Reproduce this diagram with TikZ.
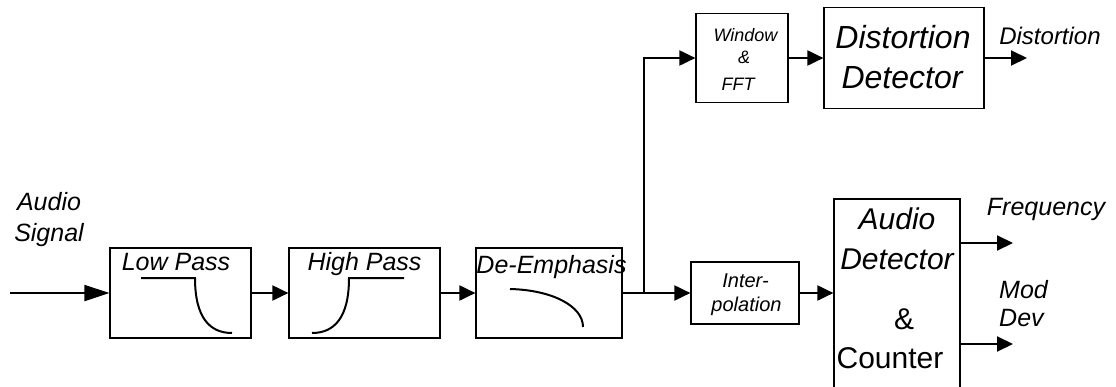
\documentclass[tikz,border=0pt]{standalone}
\usepackage{fontspec}
\setmainfont{Liberation Sans}
\usetikzlibrary{arrows.meta}

\tikzset{
  blk/.style={draw, line width=1.2pt, inner sep=0pt},
  sig/.style={line width=2pt, -{Triangle[length=16pt, width=15pt]}},
  resp/.style={line width=2pt},
  lbl/.style={inner sep=0pt, anchor=base, font=\fontsize{#1}{#1}\selectfont\itshape},
  txt/.style={inner sep=0pt, anchor=base, font=\fontsize{#1}{#1}\selectfont},
}

\begin{document}
\begin{tikzpicture}[x=1pt,y=-1pt]
\clip (0,0) rectangle (1116,386);
% blocks
\node[blk, minimum width=141pt, minimum height=90pt] (lp) at (180.5,293) {};
\node[blk, minimum width=151pt, minimum height=90pt] (hp) at (364.5,293) {};
\node[blk, minimum width=146pt, minimum height=90pt] (de) at (549,293) {};
\node[blk, minimum width=108pt, minimum height=62pt] (ip) at (745,293) {};
\node[blk, minimum width=92pt, minimum height=89pt] (win) at (742,58) {};
\node[blk, minimum width=160pt, minimum height=101pt] (dd) at (904,58) {};
\node[blk, minimum width=126pt, minimum height=201pt] (ad) at (897,299.5) {};

% labels
\node[lbl=25] (sig1) at (49,210) {Audio};
\node[lbl=25] (sig2) at (49,241) {Signal};
\node[lbl=25] (lpt) at (176,270) {Low Pass};
\node[lbl=25] (hpt) at (364.5,270) {High Pass};
\node[lbl=25] (det) at (551.5,273) {De-Emphasis};
\node[lbl=20] (ipt1) at (745.5,287) {Inter-};
\node[lbl=20] (ipt2) at (746.5,311) {polation};
\node[lbl=18] (wint1) at (745.5,41) {Window};
\node[lbl=18] (wint2) at (744,63) {\&};
\node[lbl=18] (wint3) at (738,90) {FFT};
\node[lbl=32] (ddt1) at (903,48) {Distortion};
\node[lbl=32] (ddt2) at (902,88) {Detector};
\node[lbl=30] (adt1) at (897,229) {Audio};
\node[lbl=30] (adt2) at (897,269) {Detector};
\node[txt=30] (adt3) at (904,329) {\&};
\node[txt=30] (adt4) at (890,368) {Counter};
\node[lbl=24] (dout) at (1050,44) {Distortion};
\node[lbl=25] (fout) at (1046,215) {Frequency};
\node[lbl=25, anchor=base west] (mout1) at (999,298) {Mod};
\node[lbl=25, anchor=base west] (mout2) at (999,326) {Dev};

% filter responses
\draw[resp] (141,278) -- (195,278) .. controls (195,318) and (210,333) .. (232,333);
\draw[resp] (312,333) .. controls (334,333) and (349,318) .. (349,278) -- (404,278);
\draw[resp] (510,289) .. controls (552,290) and (583,306) .. (583,327);

% connections
\coordinate (in) at (10,293);
\coordinate (j) at (644,293);
\coordinate (dend) at (1027,58);
\coordinate (fend) at (1013,243);
\coordinate (mend) at (1013,344);
\draw[line width=2pt, -{Triangle[length=25pt, width=16pt]}] (in) -- (lp.west);
\draw[sig] (lp.east) -- (hp.west);
\draw[sig] (hp.east) -- (de.west);
\draw[sig] (de.east) -- (ip.west);
\draw[sig] (j) |- (win.west);
\draw[sig] (win.east) -- (dd.west);
\draw[sig] (dd.east) -- (dend);
\draw[sig] (ip.east) -- (ip.east -| ad.west);
\draw[sig] (ad.east |- fend) -- (fend);
\draw[sig] (ad.east |- mend) -- (mend);
\end{tikzpicture}
\end{document}
